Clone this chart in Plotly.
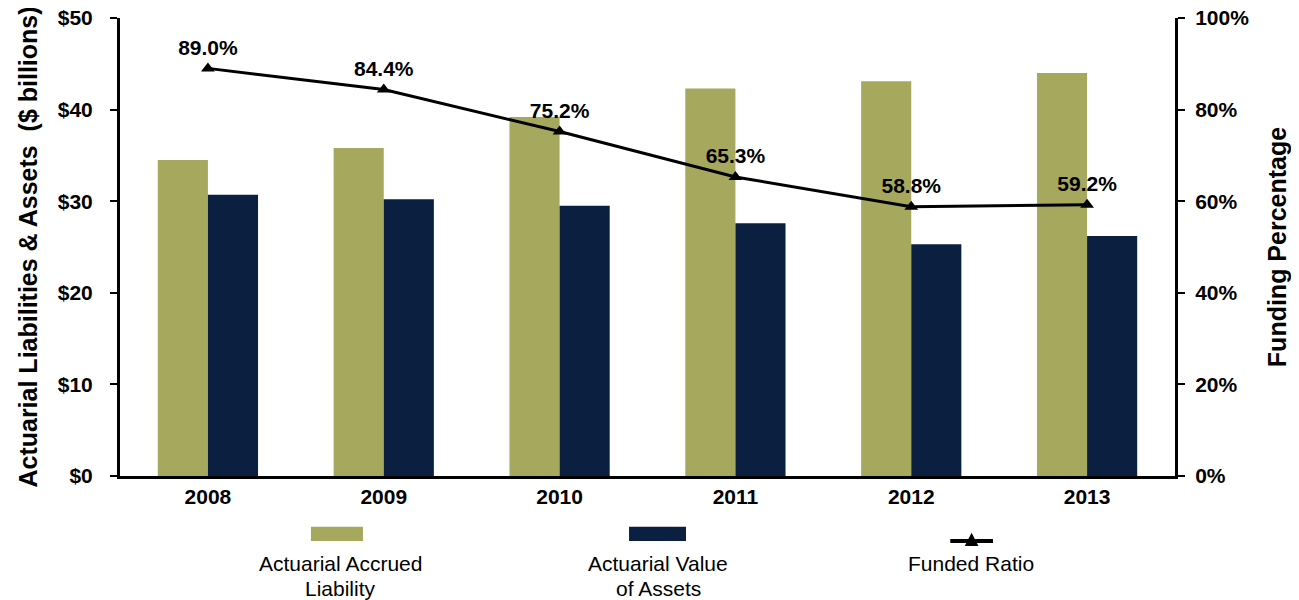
import plotly.graph_objects as go
from plotly.subplots import make_subplots

years = ["2008", "2009", "2010", "2011", "2012", "2013"]
accrued_liability = [34.5, 35.8, 39.2, 42.3, 43.1, 44.0]
value_of_assets = [30.7, 30.2, 29.5, 27.6, 25.3, 26.2]
funded_ratio = [89.0, 84.4, 75.2, 65.3, 58.8, 59.2]

OLIVE = "#A6A95D"
NAVY = "#0B1F40"
FONT = "Liberation Sans, Arial, sans-serif"

fig = make_subplots(specs=[[{"secondary_y": True}]])

fig.add_trace(go.Bar(x=years, y=accrued_liability, name="Actuarial Accrued Liability",
                     marker=dict(color=OLIVE, line=dict(width=0))), secondary_y=False)
fig.add_trace(go.Bar(x=years, y=value_of_assets, name="Actuarial Value of Assets",
                     marker=dict(color=NAVY, line=dict(width=0))), secondary_y=False)
fig.add_trace(go.Scatter(x=years, y=funded_ratio, name="Funded Ratio",
                         mode="lines+markers+text",
                         line=dict(color="black", width=3),
                         marker=dict(symbol="triangle-up", size=12, color="black"),
                         text=[f"{v:.1f}%" for v in funded_ratio],
                         textposition="top center",
                         textfont=dict(size=21, color="black", family=FONT, weight="bold")),
              secondary_y=True)

tickfont = dict(size=21, color="black", family=FONT, weight="bold")
titlefont = dict(size=25, color="black", family=FONT, weight="bold")

fig.update_xaxes(domain=[0, 1], showline=True, linecolor="black", linewidth=3, ticks="",
                 tickfont=tickfont, showgrid=False, automargin=False)
fig.update_yaxes(range=[0, 50], dtick=10, tickprefix="$", showgrid=False, zeroline=False,
                 showline=True, linecolor="black", linewidth=3, ticks="outside",
                 ticklen=7, tickwidth=2, tickcolor="black", tickfont=tickfont,
                 ticklabelstandoff=13, ticklabeloverflow="allow", automargin=False,
                 title=dict(text="Actuarial Liabilities & Assets  ($ billions)",
                            font=titlefont, standoff=14),
                 secondary_y=False)
fig.update_yaxes(range=[0, 100], dtick=20, ticksuffix="%", showgrid=False, zeroline=False,
                 showline=True, linecolor="black", linewidth=3, ticks="outside",
                 ticklen=7, tickwidth=2, tickcolor="black", tickfont=tickfont,
                 ticklabelstandoff=6, ticklabeloverflow="allow", automargin=False,
                 title=dict(text="Funding Percentage", font=titlefont, standoff=26),
                 secondary_y=True)

# custom legend below the chart: swatch on top, label lines underneath
swatch_y0, swatch_y1 = -0.142, -0.111
fig.add_shape(type="rect", xref="paper", yref="paper", x0=0.181, x1=0.2303,
              y0=swatch_y0, y1=swatch_y1, fillcolor=OLIVE, line=dict(width=0))
fig.add_shape(type="rect", xref="paper", yref="paper", x0=0.4825, x1=0.5365,
              y0=swatch_y0, y1=swatch_y1, fillcolor=NAVY, line=dict(width=0))
fig.add_shape(type="line", xref="paper", yref="paper", x0=0.787, x1=0.8275,
              y0=-0.142, y1=-0.142, line=dict(color="black", width=4))
fig.add_shape(type="path", xref="paper", yref="paper",
              path="M 0.8007,-0.153 L 0.8137,-0.153 L 0.8072,-0.124 Z",
              fillcolor="black", line=dict(width=0))

legend_lines = [
    ("Actuarial Accrued", 0.209, -0.190),
    ("Liability", 0.209, -0.245),
    ("Actuarial Value", 0.510, -0.190),
    ("of Assets", 0.510, -0.245),
    ("Funded Ratio", 0.807, -0.190),
]
for label, xc, yc in legend_lines:
    fig.add_annotation(x=xc, y=yc, xref="paper", yref="paper", text=label,
                       showarrow=False, yanchor="middle", xanchor="center",
                       font=dict(size=21, color="black", family=FONT))

fig.update_layout(
    width=1283, height=592,
    barmode="group", bargap=0.43, bargroupgap=0,
    showlegend=False,
    plot_bgcolor="white", paper_bgcolor="white",
    margin=dict(l=112, r=116, t=10, b=124),
    font=dict(family=FONT, color="black"),
)

fig.write_html("out.html")
